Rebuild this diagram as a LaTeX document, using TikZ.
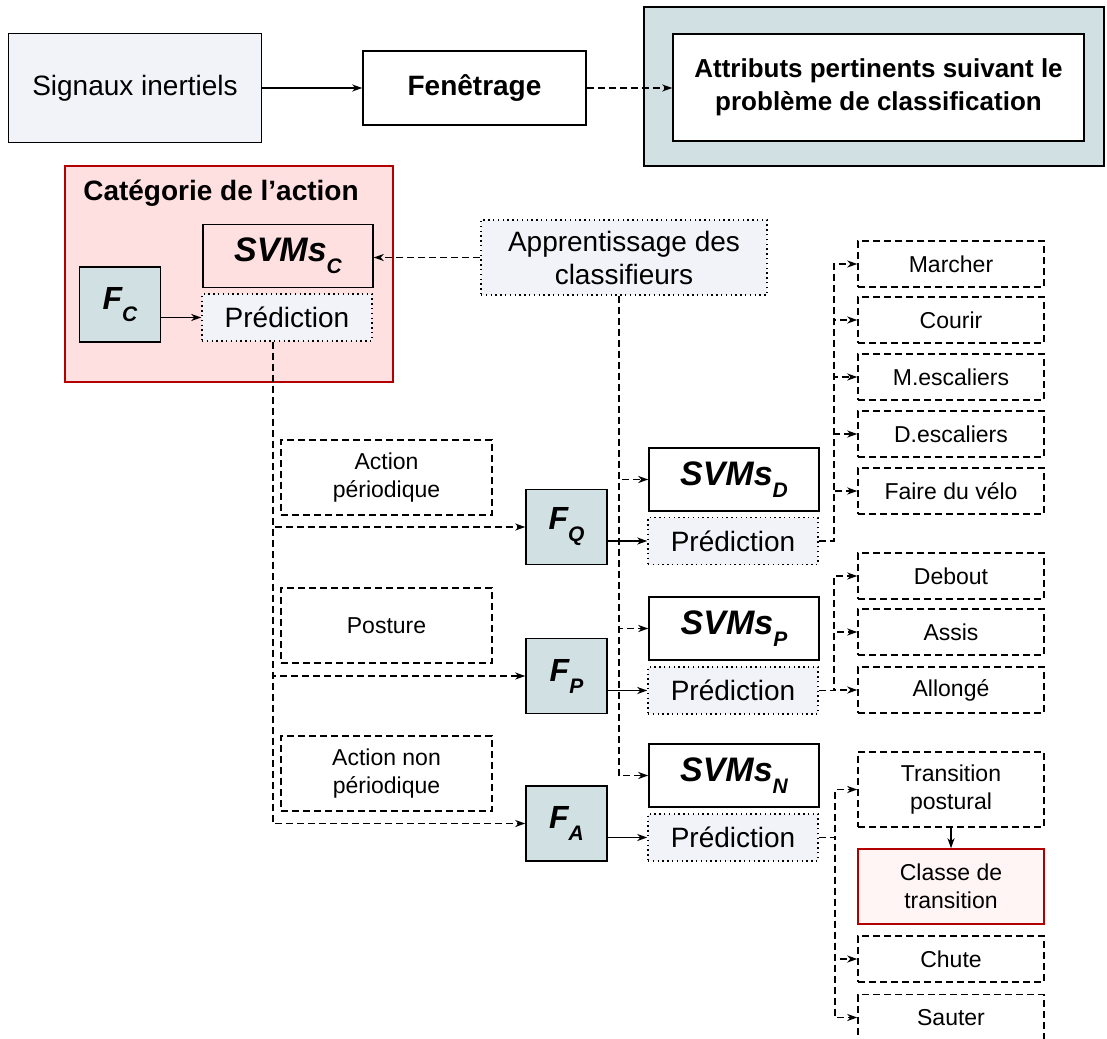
\documentclass[tikz,border=0pt]{standalone}
\usepackage{fontspec}
\setmainfont{Liberation Sans}
\usetikzlibrary{arrows.meta}

\definecolor{lavender}{HTML}{F1F3F8}
\definecolor{tealgray}{HTML}{D0E0E3}
\definecolor{rosefill}{HTML}{FFE0E0}
\definecolor{darkred}{HTML}{B20000}
\definecolor{palepink}{HTML}{FFF5F5}

\newcommand{\lowsub}[1]{\raisebox{-12pt}{\fontsize{21}{21}\selectfont #1}}
\newcommand{\svmtext}[1]{{\fontsize{34}{34}\selectfont\bfseries\itshape SVMs\lowsub{#1}}}
\newcommand{\ftext}[1]{{\fontsize{32}{32}\selectfont\bfseries\itshape F\lowsub{#1}}}

\tikzset{
  plainbox/.style={draw, line width=1.5pt, inner sep=0pt, align=center,
    font=\fontsize{28}{33}\selectfont},
  dashbox/.style={plainbox, dash pattern=on 7pt off 4pt},
  dotbox/.style={plainbox, dash pattern=on 1.4pt off 3.4pt, fill=lavender},
  sigbox/.style={plainbox, fill=lavender, minimum width=253pt, minimum height=109pt},
  fenbox/.style={plainbox, minimum width=223pt, minimum height=74pt},
  attrout/.style={plainbox, fill=tealgray, minimum width=460pt, minimum height=159pt},
  attrin/.style={plainbox, fill=white, minimum width=411pt, minimum height=107pt,
    font=\fontsize{26}{33}\selectfont\bfseries},
  catbox/.style={plainbox, draw=darkred, fill=rosefill, minimum width=328pt, minimum height=216pt},
  svmbox/.style={plainbox, minimum width=170pt, minimum height=63pt},
  predbox/.style={dotbox, minimum width=170pt, minimum height=47pt},
  appbox/.style={dotbox, minimum width=286pt, minimum height=75pt},
  fbox/.style={plainbox, fill=tealgray, minimum width=81pt, minimum height=75pt},
  sidebox/.style={dashbox, minimum width=211pt, minimum height=75pt,
    font=\fontsize{23}{28}\selectfont},
  leafbox/.style={dashbox, minimum width=186pt, minimum height=46pt,
    font=\fontsize{23}{28}\selectfont},
  classbox/.style={plainbox, draw=darkred, fill=palepink, minimum width=186pt,
    minimum height=75pt, font=\fontsize{23}{28}\selectfont},
  sline/.style={line width=1.5pt, -{Stealth[length=10pt, width=7pt, inset=3pt]}},
  dline/.style={sline, dash pattern=on 7pt off 4pt},
}

\begin{document}
\begin{tikzpicture}[x=1pt, y=-1pt]
  \useasboundingbox (0,0) rectangle (1107,1038);
  \draw
    (135,88) node[sigbox] (sig) {Signaux inertiels}
    (474.5,88) node[fenbox] (fen) {\bfseries Fenêtrage}
    (874,86.5) node[attrout] (attrout) {}
    (878.5,87.5) node[attrin] (attr) {Attributs pertinents suivant le\\problème de classification}
    (229,274) node[catbox] (cat) {}
    (221,193) node[font=\fontsize{28}{33}\selectfont\bfseries] (cattitle) {Catégorie de l’action}
    (288,256) node[svmbox] (svmC) {\svmtext{C}}
    (287,317.5) node[predbox] (predC) {Prédiction}
    (120,304.5) node[fbox] (fC) {\ftext{C}}
    (624,257.5) node[appbox] (app) {Apprentissage des\\classifieurs};
  \draw
    (386.5,477.5) node[sidebox] (actper) {Action\\périodique}
    (386.5,625.5) node[sidebox] (posture) {Posture}
    (386.5,773.5) node[sidebox] (actnon) {Action non\\périodique}
    (566.5,527) node[fbox] (fQ) {\ftext{Q}}
    (566.5,676) node[fbox] (fP) {\ftext{P}}
    (566.5,823.5) node[fbox] (fA) {\ftext{A}}
    (734,479.5) node[svmbox] (svmD) {\svmtext{D}}
    (733,541) node[predbox] (predQ) {Prédiction}
    (734,628.5) node[svmbox] (svmP) {\svmtext{P}}
    (733,690.5) node[predbox] (predP) {Prédiction}
    (734,775.5) node[svmbox] (svmN) {\svmtext{N}}
    (733,837.5) node[predbox] (predN) {Prédiction};
  \draw
    (951,264) node[leafbox] (marcher) {Marcher}
    (951,320) node[leafbox] (courir) {Courir}
    (951,377) node[leafbox] (mesc) {M.escaliers}
    (951,434) node[leafbox] (desc) {D.escaliers}
    (951,491) node[leafbox] (velo) {Faire du vélo}
    (951,576) node[leafbox] (debout) {Debout}
    (951,632) node[leafbox] (assis) {Assis}
    (951,690) node[leafbox] (allonge) {Allongé}
    (951,789.5) node[leafbox, minimum height=75pt] (trans) {Transition\\postural}
    (951,886.5) node[classbox] (classe) {Classe de\\transition}
    (951,959) node[leafbox] (chute) {Chute}
    (951,1017.5) node[leafbox] (sauter) {Sauter};
  % top chain
  \draw[sline] (sig.east) -- (fen.west);
  \draw[dline] (fen.east) -- (attr.west |- fen.east);
  % category stage
  \draw[sline] (fC.east |- predC.west) -- (predC.west);
  \draw[dline] (app.west) -- (svmC.east |- app.west);
  \begin{scope}[dline]
    \draw ([xshift=-14pt]predC.south) |- (fQ.west);
    \draw ([xshift=-14pt]predC.south) |- (fP.west);
    \draw ([xshift=-14pt]predC.south) |- (fA.west);
    \draw ([xshift=-5pt]app.south) |- (svmD.west);
    \draw ([xshift=-5pt]app.south) |- (svmP.west);
    \draw ([xshift=-5pt]app.south) |- (svmN.west);
  \end{scope}
  \draw[sline] (fQ.east |- predQ.west) -- (predQ.west);
  \draw[sline] (fP.east |- predP.west) -- (predP.west);
  \draw[sline] (fA.east |- predN.west) -- (predN.west);
  % classes
  \begin{scope}[dline]
    \draw (predQ.east) -- ++(15,0) |- (marcher.west);
    \draw (predQ.east) -- ++(15,0) |- (courir.west);
    \draw (predQ.east) -- ++(15,0) |- (mesc.west);
    \draw (predQ.east) -- ++(15,0) |- (desc.west);
    \draw (predQ.east) -- ++(15,0) |- (velo.west);
    \draw (predP.east) -- ++(15,0) |- (debout.west);
    \draw (predP.east) -- ++(15,0) |- (assis.west);
    \draw (predP.east) -- ++(15,0) |- (allonge.west);
    \draw (predN.east) -- ++(16,0) |- (trans.west);
    \draw (predN.east) -- ++(16,0) |- (chute.west);
    \draw (predN.east) -- ++(16,0) |- (sauter.west);
  \end{scope}
  \draw[sline] (trans.south) -- (classe.north);
\end{tikzpicture}
\end{document}
